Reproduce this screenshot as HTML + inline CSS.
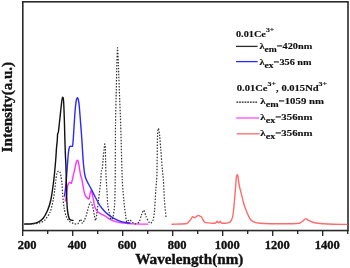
<!DOCTYPE html>
<html><head><meta charset="utf-8">
<style>
html,body{margin:0;padding:0;background:#fff;}
body{width:350px;height:268px;overflow:hidden;}
svg{display:block;will-change:transform;}
text{font-family:"Liberation Serif",serif;font-weight:bold;fill:#111;stroke:#111;stroke-width:0.35px;}
.lg text{stroke-width:0.15px;}
</style></head>
<body>
<svg width="350" height="268" viewBox="0 0 350 268">
<rect x="22.8" y="1.8" width="325.2" height="228.75" fill="none" stroke="#2a2a2a" stroke-width="1.6"/>
<g stroke="#222" stroke-width="1.3">
<line x1="22.7" y1="230.5" x2="22.7" y2="236"/><line x1="47.7" y1="230.5" x2="47.7" y2="234"/><line x1="72.7" y1="230.5" x2="72.7" y2="236"/><line x1="97.7" y1="230.5" x2="97.7" y2="234"/><line x1="122.7" y1="230.5" x2="122.7" y2="236"/><line x1="147.7" y1="230.5" x2="147.7" y2="234"/><line x1="172.7" y1="230.5" x2="172.7" y2="236"/><line x1="197.7" y1="230.5" x2="197.7" y2="234"/><line x1="222.7" y1="230.5" x2="222.7" y2="236"/><line x1="247.7" y1="230.5" x2="247.7" y2="234"/><line x1="272.7" y1="230.5" x2="272.7" y2="236"/><line x1="297.7" y1="230.5" x2="297.7" y2="234"/><line x1="322.7" y1="230.5" x2="322.7" y2="236"/><line x1="347.7" y1="230.5" x2="347.7" y2="234"/>
</g>
<g font-size="12.5" text-anchor="middle">
<text x="27.2" y="248.6">200</text>
<text x="77.2" y="248.6">400</text>
<text x="127.2" y="248.6">600</text>
<text x="177.2" y="248.6">800</text>
<text x="227.2" y="248.6">1000</text>
<text x="277.2" y="248.6">1200</text>
<text x="327.2" y="248.6">1400</text>
</g>
<text transform="translate(189.3,263.8) scale(1.05,1)" font-size="14.5" text-anchor="middle">Wavelength(nm)</text>
<text transform="translate(12.2,107.1) rotate(-90) scale(1.04,1)" font-size="14.5" text-anchor="middle">Intensity(a.u.)</text>
<g fill="none" stroke-linejoin="round" stroke-linecap="round">
<path stroke="#ff6a6a" stroke-width="1.4" d="M172.00,224.20 C172.96,224.18 178.32,224.05 180.00,224.00 C181.68,223.95 185.10,223.92 186.00,223.80 C186.90,223.68 187.14,223.28 187.50,223.00 C187.86,222.72 188.59,221.93 189.00,221.50 C189.41,221.07 190.47,219.99 190.90,219.40 C191.33,218.81 192.19,216.80 192.60,216.60 C193.01,216.40 193.89,217.68 194.30,217.70 C194.71,217.72 195.52,217.08 196.00,216.80 C196.48,216.52 197.82,215.47 198.30,215.40 C198.78,215.33 199.66,216.06 200.00,216.20 C200.34,216.34 200.82,216.35 201.10,216.60 C201.38,216.85 201.88,217.62 202.30,218.30 C202.72,218.98 203.84,221.75 204.60,222.30 C205.36,222.85 207.59,222.79 208.60,222.90 C209.61,223.01 212.17,223.16 213.00,223.20 C213.83,223.24 215.02,223.43 215.50,223.20 C215.98,222.97 216.66,221.35 217.00,221.30 C217.34,221.25 218.04,222.66 218.30,222.80 C218.56,222.94 218.96,222.68 219.20,222.50 C219.44,222.32 220.02,221.24 220.30,221.30 C220.58,221.36 220.82,222.77 221.50,223.00 C222.18,223.23 225.21,223.22 226.00,223.20 C226.79,223.18 227.57,222.98 228.10,222.80 C228.63,222.62 229.86,222.37 230.40,221.70 C230.94,221.03 232.19,218.84 232.60,217.20 C233.01,215.56 233.57,210.06 233.80,208.00 C234.03,205.94 234.30,202.40 234.50,200.00 C234.70,197.60 235.28,190.64 235.50,188.00 C235.72,185.36 236.11,179.60 236.30,178.00 C236.49,176.40 236.90,174.88 237.10,174.70 C237.30,174.52 237.74,175.16 238.00,176.50 C238.26,177.84 238.87,183.70 239.30,185.90 C239.73,188.10 241.06,192.65 241.60,194.80 C242.14,196.95 243.14,201.65 243.80,203.80 C244.46,205.95 246.30,210.82 247.10,212.70 C247.90,214.58 249.55,218.34 250.50,219.50 C251.45,220.66 253.86,221.94 255.00,222.40 C256.14,222.86 258.20,223.14 260.00,223.30 C261.80,223.46 266.40,223.64 270.00,223.70 C273.60,223.76 286.76,223.84 290.00,223.80 C293.24,223.76 295.80,223.50 297.00,223.40 C298.20,223.30 299.28,223.29 300.00,223.00 C300.72,222.71 302.33,221.53 303.00,221.00 C303.67,220.47 305.00,218.72 305.60,218.60 C306.20,218.48 307.23,219.59 308.00,220.00 C308.77,220.41 310.80,221.62 312.00,222.00 C313.20,222.38 316.08,222.96 318.00,223.20 C319.92,223.44 324.52,223.86 328.00,224.00 C331.48,224.14 344.72,224.35 347.00,224.40"/>
<path stroke="#ff33ff" stroke-width="1.4" d="M65.20,201.00 C65.32,200.40 65.91,197.80 66.20,196.00 C66.49,194.20 67.32,187.50 67.60,186.00 C67.88,184.50 68.24,183.93 68.50,183.50 C68.76,183.07 69.45,182.44 69.80,182.40 C70.15,182.36 71.08,183.61 71.40,183.20 C71.72,182.79 72.07,180.82 72.50,179.00 C72.93,177.18 74.56,169.98 75.00,168.00 C75.44,166.02 75.91,163.42 76.20,162.50 C76.49,161.58 77.14,160.36 77.40,160.30 C77.66,160.24 78.16,161.09 78.40,162.00 C78.64,162.91 79.14,166.34 79.40,167.90 C79.66,169.46 80.29,173.55 80.60,175.00 C80.91,176.45 81.66,178.44 82.00,180.00 C82.34,181.56 83.08,186.31 83.40,188.00 C83.72,189.69 84.30,192.96 84.70,194.10 C85.10,195.24 86.18,196.94 86.70,197.50 C87.22,198.06 88.56,199.45 89.00,198.80 C89.44,198.15 90.16,193.04 90.40,192.10 C90.64,191.16 90.80,190.84 91.00,191.00 C91.20,191.16 91.80,192.30 92.10,193.40 C92.40,194.50 93.18,198.58 93.50,200.20 C93.82,201.82 94.24,205.45 94.80,206.90 C95.36,208.35 97.35,211.41 98.20,212.30 C99.05,213.19 100.96,213.80 101.90,214.30 C102.84,214.80 105.03,215.90 106.00,216.50 C106.97,217.10 108.84,218.69 110.00,219.30 C111.16,219.91 114.33,221.19 115.70,221.60 C117.07,222.01 119.34,222.42 121.40,222.70 C123.46,222.98 129.74,223.73 132.90,223.90 C136.06,224.07 145.92,224.08 147.70,224.10"/>
<path stroke="#2a2aff" stroke-width="1.4" d="M64.50,196.00 C64.60,195.28 65.08,191.92 65.30,190.00 C65.52,188.08 66.00,183.60 66.30,180.00 C66.60,176.40 67.54,163.36 67.80,160.00 C68.06,156.64 68.28,153.58 68.50,152.00 C68.72,150.42 69.30,147.48 69.60,146.80 C69.90,146.12 70.65,146.40 71.00,146.30 C71.35,146.20 72.24,146.76 72.50,146.00 C72.76,145.24 73.01,142.45 73.20,140.00 C73.39,137.55 73.88,128.96 74.10,125.60 C74.32,122.24 74.82,114.42 75.00,112.00 C75.18,109.58 75.43,106.84 75.60,105.40 C75.77,103.96 76.18,100.94 76.40,100.00 C76.62,99.06 77.17,97.66 77.40,97.60 C77.63,97.54 78.08,98.56 78.30,99.50 C78.52,100.44 78.90,102.27 79.20,105.40 C79.50,108.53 80.48,121.45 80.80,125.60 C81.12,129.75 81.68,136.83 81.90,140.00 C82.12,143.17 82.43,149.36 82.60,152.00 C82.77,154.64 83.08,159.55 83.30,162.00 C83.52,164.45 84.14,170.54 84.40,172.40 C84.66,174.26 85.22,176.53 85.50,177.50 C85.78,178.47 86.34,179.72 86.70,180.50 C87.06,181.28 87.94,182.93 88.50,184.00 C89.06,185.07 90.56,187.78 91.40,189.40 C92.24,191.02 94.53,195.64 95.50,197.50 C96.47,199.36 98.73,203.62 99.50,204.90 C100.27,206.18 101.12,207.26 101.90,208.20 C102.68,209.14 105.03,211.78 106.00,212.70 C106.97,213.62 108.84,215.11 110.00,215.90 C111.16,216.69 114.33,218.62 115.70,219.30 C117.07,219.98 120.03,221.19 121.40,221.60 C122.77,222.01 126.07,222.53 127.10,222.70 C128.13,222.87 129.65,222.96 130.00,223.00"/>
<path stroke="#111" stroke-width="1.4" d="M25.00,224.00 C25.84,223.96 30.48,223.89 32.00,223.70 C33.52,223.51 36.38,223.02 37.70,222.40 C39.02,221.78 41.82,219.93 43.00,218.50 C44.18,217.07 46.56,212.72 47.50,210.50 C48.44,208.28 50.04,203.66 50.80,200.00 C51.56,196.34 53.21,184.80 53.80,180.00 C54.39,175.20 55.38,163.84 55.70,160.00 C56.02,156.16 56.31,150.40 56.50,148.00 C56.69,145.60 57.17,141.68 57.30,140.00 C57.43,138.32 57.47,134.96 57.60,134.00 C57.73,133.04 58.17,133.44 58.40,132.00 C58.63,130.56 59.21,124.64 59.50,122.00 C59.79,119.36 60.52,112.52 60.80,110.00 C61.08,107.48 61.57,102.54 61.80,101.00 C62.03,99.46 62.50,97.32 62.70,97.20 C62.90,97.08 63.34,98.46 63.50,100.00 C63.66,101.54 63.88,107.00 64.00,110.00 C64.12,113.00 64.39,121.40 64.50,125.00 C64.61,128.60 64.79,136.40 64.90,140.00 C65.01,143.60 65.28,152.00 65.40,155.00 C65.52,158.00 65.79,162.00 65.90,165.00 C66.01,168.00 66.19,175.80 66.30,180.00 C66.41,184.20 66.66,196.35 66.80,200.00 C66.94,203.65 67.25,208.28 67.50,210.40 C67.75,212.52 68.55,216.57 68.90,217.70 C69.25,218.83 69.91,219.48 70.40,219.80 C70.89,220.12 72.69,220.33 73.00,220.40"/>
<path stroke="#333" stroke-width="1.2" stroke-dasharray="1.5,1.5" stroke-linecap="butt" d="M24.00,224.10 C25.20,224.06 32.08,223.96 34.00,223.80 C35.92,223.64 38.69,223.26 40.00,222.80 C41.31,222.34 43.68,221.30 44.90,220.00 C46.12,218.70 49.20,214.40 50.20,212.00 C51.20,209.60 52.66,202.64 53.20,200.00 C53.74,197.36 54.38,192.40 54.70,190.00 C55.02,187.60 55.65,181.92 55.90,180.00 C56.15,178.08 56.50,175.08 56.80,174.00 C57.10,172.92 58.02,171.20 58.40,171.00 C58.78,170.80 59.69,171.64 60.00,172.30 C60.31,172.96 60.77,175.22 61.00,176.50 C61.23,177.78 61.71,180.90 61.90,183.00 C62.09,185.10 62.46,191.96 62.60,194.00 C62.74,196.04 62.91,198.27 63.10,200.00 C63.29,201.73 63.82,206.40 64.20,208.40 C64.58,210.40 65.68,215.14 66.30,216.70 C66.92,218.26 68.52,220.58 69.40,221.40 C70.28,222.22 72.60,223.19 73.60,223.50 C74.60,223.81 76.88,224.50 77.70,224.00 C78.52,223.50 79.84,219.36 80.40,219.30 C80.96,219.24 81.91,223.42 82.40,223.50 C82.89,223.58 84.02,221.02 84.50,220.00 C84.98,218.98 85.92,216.56 86.40,215.00 C86.88,213.44 88.00,208.56 88.50,207.00 C89.00,205.44 90.08,202.00 90.60,202.00 C91.12,202.00 92.33,205.32 92.80,207.00 C93.27,208.68 94.16,214.38 94.50,216.00 C94.84,217.62 95.32,220.74 95.60,220.50 C95.88,220.26 96.45,216.46 96.80,214.00 C97.15,211.54 98.09,203.36 98.50,200.00 C98.91,196.64 99.92,188.40 100.20,186.00 C100.48,183.60 100.69,181.44 100.80,180.00 C100.91,178.56 101.02,175.14 101.10,174.00 C101.18,172.86 101.34,171.22 101.50,170.50 C101.66,169.78 102.22,169.26 102.40,168.00 C102.58,166.74 102.81,162.16 103.00,160.00 C103.19,157.84 103.80,151.92 104.00,150.00 C104.20,148.08 104.56,144.48 104.70,144.00 C104.84,143.52 105.12,145.28 105.20,146.00 C105.28,146.72 105.35,148.32 105.40,150.00 C105.45,151.68 105.53,157.00 105.60,160.00 C105.67,163.00 105.84,171.40 106.00,175.00 C106.16,178.60 106.68,186.40 106.90,190.00 C107.12,193.60 107.50,202.17 107.80,205.00 C108.10,207.83 109.02,211.87 109.40,213.60 C109.78,215.33 110.58,218.92 111.00,219.40 C111.42,219.88 112.47,219.33 112.90,217.60 C113.33,215.87 114.32,209.51 114.60,205.00 C114.88,200.49 115.09,189.60 115.20,180.00 C115.31,170.40 115.37,135.80 115.50,125.00 C115.63,114.20 116.16,96.60 116.30,90.00 C116.44,83.40 116.56,75.08 116.70,70.00 C116.84,64.92 117.30,48.30 117.50,47.70 C117.70,47.10 118.14,58.72 118.40,65.00 C118.66,71.28 119.42,92.80 119.70,100.00 C119.98,107.20 120.39,115.40 120.70,125.00 C121.01,134.60 121.87,170.40 122.30,180.00 C122.73,189.60 123.90,200.80 124.30,205.00 C124.70,209.20 125.32,212.95 125.60,215.00 C125.88,217.05 126.28,221.44 126.60,222.10 C126.92,222.76 127.89,220.76 128.30,220.50 C128.71,220.24 129.50,219.66 130.00,219.90 C130.50,220.14 131.89,222.02 132.50,222.50 C133.11,222.98 134.31,223.95 135.10,223.90 C135.89,223.85 138.34,223.13 139.10,222.10 C139.86,221.07 140.85,216.74 141.40,215.30 C141.95,213.86 143.15,209.97 143.70,210.10 C144.25,210.23 145.38,214.96 146.00,216.40 C146.62,217.84 148.32,221.30 148.90,222.10 C149.48,222.90 150.30,223.35 150.80,223.10 C151.30,222.85 152.64,221.57 153.10,220.00 C153.56,218.43 154.28,213.60 154.60,210.00 C154.92,206.40 155.52,194.20 155.80,190.00 C156.08,185.80 156.70,181.46 156.90,175.00 C157.10,168.54 157.32,141.79 157.50,136.20 C157.68,130.61 158.14,128.42 158.40,128.40 C158.66,128.38 159.41,133.41 159.70,136.00 C159.99,138.59 160.48,145.92 160.80,150.00 C161.12,154.08 162.09,166.40 162.40,170.00 C162.71,173.60 163.16,176.40 163.40,180.00 C163.64,183.60 164.09,195.51 164.40,200.00 C164.71,204.49 165.81,215.31 166.00,217.40"/>
</g>
<line x1="236" y1="46.4" x2="257.6" y2="46.4" stroke="#2a2a2a" stroke-width="1.3"/>
<line x1="236" y1="61.6" x2="257.6" y2="61.6" stroke="#2a2aff" stroke-width="1.3"/>
<line x1="236.4" y1="102.1" x2="257.8" y2="102.1" stroke="#222" stroke-width="1.2" stroke-dasharray="1.8,0.9"/>
<line x1="236.2" y1="118" x2="259" y2="118" stroke="#ff55ff" stroke-width="1.4"/>
<line x1="236.8" y1="133.8" x2="259.6" y2="133.8" stroke="#ff7373" stroke-width="1.4"/>
<g class="lg" font-size="9" transform="matrix(1.14,0,0,1,-33.04,0)">
<text x="236" y="37.3">0.01Ce<tspan font-size="6.8" dy="-5.3">3+</tspan></text>
<text x="256.6" y="49">λ<tspan font-size="8.4" dy="3">em</tspan><tspan dy="-3">=420nm</tspan></text>
<text x="256.6" y="64.6">λ<tspan font-size="8.4" dy="3">ex</tspan><tspan dy="-3">=356 nm</tspan></text>
</g>
<g class="lg" font-size="9" transform="matrix(1.175,0,0,1,-41.44,0)"><text x="236.8" y="91.1">0.01Ce<tspan font-size="6.8" dy="-5.3">3+</tspan><tspan dy="5.3">, 0.015Nd</tspan><tspan font-size="6.8" dy="-5.3">3+</tspan></text></g>
<g class="lg" font-size="9" transform="matrix(1.2,0,0,1,-47.3,0)">

<text x="256.4" y="104.5">λ<tspan font-size="8.4" dy="3">em</tspan><tspan dy="-3">=1059 nm</tspan></text>
<text x="256.4" y="120.4">λ<tspan font-size="8.4" dy="3">ex</tspan><tspan dy="-3">=356nm</tspan></text>
<text x="256.4" y="136.2">λ<tspan font-size="8.4" dy="3">ex</tspan><tspan dy="-3">=356nm</tspan></text>
</g>
</svg>
</body></html>
